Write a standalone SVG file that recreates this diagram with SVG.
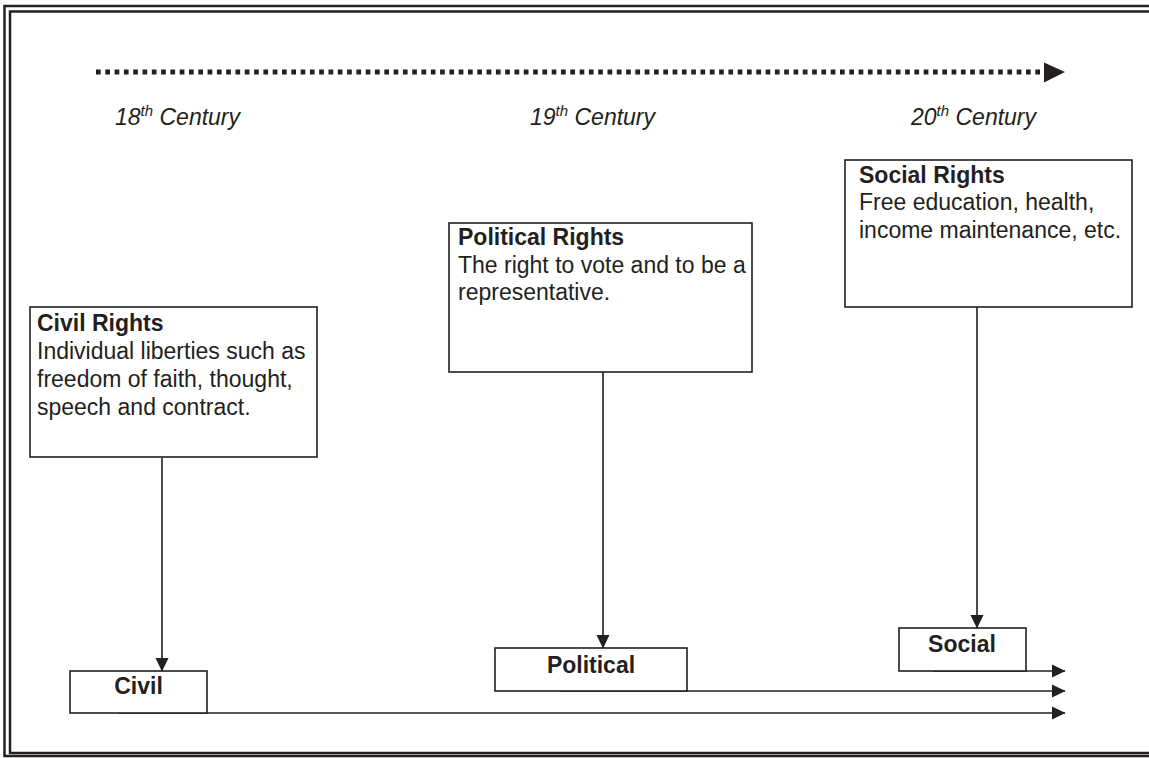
<svg xmlns="http://www.w3.org/2000/svg" width="1149" height="758" viewBox="0 0 1149 758">
<defs>
<style>
.box{fill:#fff;stroke:#231f20;stroke-width:1.6}
.ln{fill:none;stroke:#231f20;stroke-width:1.6}
.t{font-family:"Liberation Sans",Arial,sans-serif;font-size:23px;fill:#231f20}
.b{font-weight:bold}
.c{font-style:italic}
</style>
<marker id="ah" markerWidth="14" markerHeight="14" refX="13" refY="7" orient="auto" markerUnits="userSpaceOnUse">
<path d="M0,0.5 L13.5,7 L0,13.5 Z" fill="#231f20"/>
</marker>
</defs>
<rect width="1149" height="758" fill="#fff"/>
<g id="frame">
<path d="M1152,6 H4.5 V756 H1152" fill="none" stroke="#231f20" stroke-width="2.5"/>
<path d="M1152,11.5 H10 V753 H1152" fill="none" stroke="#231f20" stroke-width="2.5"/>
</g>
<g id="timeline">
<line x1="96" y1="72" x2="1040" y2="72" stroke="#231f20" stroke-width="5" stroke-dasharray="4.7 4.6"/>
<path d="M1044,62.5 L1065,72 L1044,82.5 Z" fill="#231f20"/>
</g>
<g id="centuries">
<text x="115" y="125" class="t c">18<tspan font-size="15" dy="-9">th</tspan><tspan dy="9"> Century</tspan></text>
<text x="530" y="125" class="t c">19<tspan font-size="15" dy="-9">th</tspan><tspan dy="9"> Century</tspan></text>
<text x="911" y="125" class="t c">20<tspan font-size="15" dy="-9">th</tspan><tspan dy="9"> Century</tspan></text>
</g>
<g id="connectors">
<line class="ln" x1="162" y1="458" x2="162" y2="671" marker-end="url(#ah)"/>
<line class="ln" x1="603" y1="372" x2="603" y2="648" marker-end="url(#ah)"/>
<line class="ln" x1="977" y1="307" x2="977" y2="628" marker-end="url(#ah)"/>
<line class="ln" x1="118" y1="713" x2="1065" y2="713" marker-end="url(#ah)"/>
<line class="ln" x1="560" y1="691" x2="1065" y2="691" marker-end="url(#ah)"/>
<line class="ln" x1="933" y1="671" x2="1065" y2="671" marker-end="url(#ah)"/>
</g>
<g id="civil-rights">
<rect class="box" x="30" y="307" width="287" height="150"/>
<text class="t b" x="37" y="331">Civil Rights</text>
<text class="t" x="37" y="359">Individual liberties such as</text>
<text class="t" x="37" y="387">freedom of faith, thought,</text>
<text class="t" x="37" y="415">speech and contract.</text>
</g>
<g id="political-rights">
<rect class="box" x="449" y="223" width="303" height="149"/>
<text class="t b" x="458" y="245">Political Rights</text>
<text class="t" x="458" y="273">The right to vote and to be a</text>
<text class="t" x="458" y="300">representative.</text>
</g>
<g id="social-rights">
<rect class="box" x="845" y="160" width="287" height="147"/>
<text class="t b" x="859" y="183">Social Rights</text>
<text class="t" x="859" y="210">Free education, health,</text>
<text class="t" x="859" y="238">income maintenance, etc.</text>
</g>
<g id="civil">
<rect class="box" x="70" y="671" width="137" height="42"/>
<text class="t b" x="138.5" y="694" text-anchor="middle">Civil</text>
</g>
<g id="political">
<rect class="box" x="495" y="648" width="192" height="43"/>
<text class="t b" x="591" y="673" text-anchor="middle">Political</text>
</g>
<g id="social">
<rect class="box" x="899" y="628" width="127" height="43"/>
<text class="t b" x="962" y="652" text-anchor="middle">Social</text>
</g>
</svg>
